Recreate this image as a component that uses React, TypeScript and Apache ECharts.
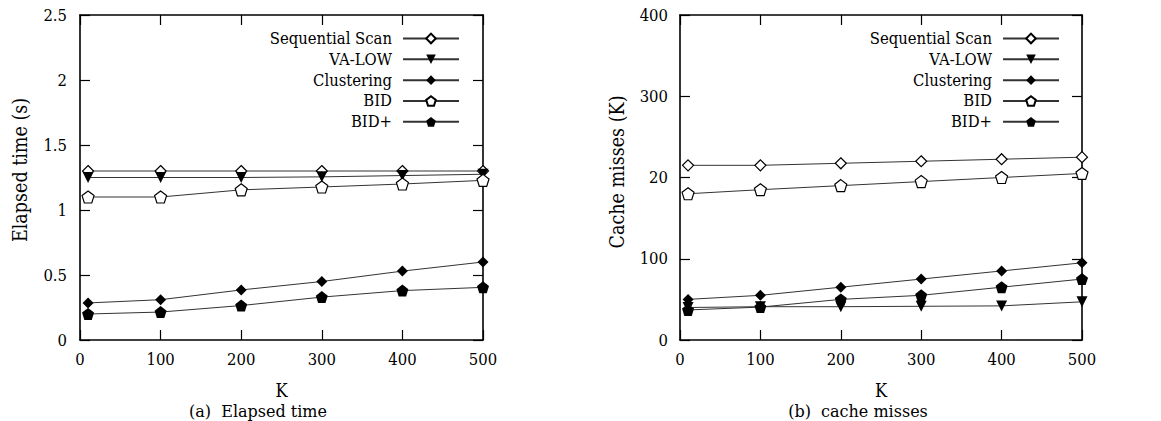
import React, { useEffect, useRef } from "react";
import * as echarts from "echarts";

const kValues = [10, 100, 200, 300, 400, 500];
const seriesNames = ["Sequential Scan", "VA-LOW", "Clustering", "BID", "BID+"];

// (a) Elapsed time (s)
const timeSeqScan = [1.3, 1.3, 1.3, 1.3, 1.3, 1.3];
const timeVaLow = [1.25, 1.25, 1.25, 1.255, 1.265, 1.275];
const timeClustering = [0.285, 0.31, 0.385, 0.45, 0.53, 0.6];
const timeBid = [1.1, 1.1, 1.155, 1.177, 1.2, 1.228];
const timeBidPlus = [0.2, 0.215, 0.265, 0.33, 0.38, 0.405];

// (b) cache misses (K)
const missSeqScan = [215, 215, 217.5, 220, 222.5, 225];
const missVaLow = [40, 41, 41, 41.5, 42, 47];
const missClustering = [50, 55, 65, 75, 85, 95];
const missBid = [180, 185, 190, 195, 200, 205];
const missBidPlus = [37, 40.5, 50, 55, 65, 75];

const xTickLabels = ["0", "100", "200", "300", "400", "500"];
const leftYTickLabels = ["0", "0.5", "1", "1.5", "2", "2.5"];
const rightYTickLabels = ["0", "100", "20", "300", "400"];

const SERIF = "'DejaVu Serif Condensed', 'DejaVu Serif'";
const CAPTION_FONT = "'DejaVu Serif'";

const PENTAGON = "path://M0,-10 L9.51,-3.09 L5.88,8.09 L-5.88,8.09 L-9.51,-3.09 Z";
const TRI_DOWN = "path://M0,0 L10,0 L5,9 Z";

const symbolStyles = [
  { symbol: "diamond", size: 11, open: true },
  { symbol: TRI_DOWN, size: 11, open: false },
  { symbol: "diamond", size: 11, open: false },
  { symbol: PENTAGON, size: 12, open: true },
  { symbol: PENTAGON, size: 12, open: false },
];

function pairs(vals: number[]) {
  return vals.map((v, i) => [kValues[i], v]);
}

function makeSeries(values: number[][], xIdx: number, yIdx: number) {
  return values.map((vals, i) => {
    const s = symbolStyles[i];
    return {
      name: seriesNames[i],
      type: "line",
      xAxisIndex: xIdx,
      yAxisIndex: yIdx,
      data: pairs(vals),
      symbol: s.symbol,
      symbolSize: s.size,
      showSymbol: true,
      lineStyle: { color: "#333", width: 1 },
      itemStyle: s.open
        ? { color: "#fff", borderColor: "#000", borderWidth: 1.2 }
        : { color: "#000", borderColor: "#000", borderWidth: 0 },
      z: 3,
    };
  });
}

function xAxes(gridIndex: number) {
  const base = {
    type: "value",
    gridIndex,
    min: 0,
    max: 500,
    interval: 100,
    splitLine: { show: false },
    axisLine: { show: true, onZero: false, lineStyle: { color: "#000", width: 1.6 } },
    axisTick: { show: true, inside: true, length: 10, lineStyle: { color: "#000", width: 1.2 } },
  };
  return [
    {
      ...base,
      position: "bottom",
      axisLabel: {
        show: true,
        margin: 11,
        fontSize: 16.5,
        fontFamily: SERIF,
        color: "#000",
        formatter: (v: number) => xTickLabels[Math.round(v / 100)] ?? String(v),
      },
    },
    { ...base, position: "top", axisLabel: { show: false } },
  ];
}

function yAxes(gridIndex: number, max: number, interval: number, labels: string[], margin: number) {
  const base = {
    type: "value",
    gridIndex,
    min: 0,
    max,
    interval,
    splitLine: { show: false },
    axisLine: { show: true, onZero: false, lineStyle: { color: "#000", width: 1.6 } },
    axisTick: { show: true, inside: true, length: 10, lineStyle: { color: "#000", width: 1.2 } },
  };
  return [
    {
      ...base,
      position: "left",
      axisLabel: {
        show: true,
        margin,
        fontSize: 16.5,
        fontFamily: SERIF,
        color: "#000",
        formatter: (v: number) => labels[Math.round(v / interval)] ?? String(v),
      },
    },
    { ...base, position: "right", axisLabel: { show: false } },
  ];
}

function legend(right: number) {
  return {
    orient: "vertical",
    right,
    top: 28,
    padding: 0,
    itemWidth: 56,
    itemHeight: 12,
    itemGap: 0,
    align: "right",
    selectedMode: false,
    data: seriesNames,
    textStyle: {
      fontSize: 16.5,
      fontFamily: SERIF,
      color: "#000",
      lineHeight: 20.85,
      padding: [0, 6, 0, 0],
    },
  };
}

function textEl(text: string, x: number, y: number, family: string, size: number, rotation = 0) {
  return {
    type: "text",
    x,
    y,
    rotation,
    style: {
      text,
      fontSize: size,
      fontFamily: family,
      fill: "#000",
      textAlign: "center",
      textVerticalAlign: "middle",
    },
  };
}

export default function App() {
  const ref = useRef<HTMLDivElement>(null);
  useEffect(() => {
    document.body.style.margin = "0";
    if (!ref.current) return;
    const chart = echarts.init(ref.current, null, { renderer: "svg" });
    const option = {
      animation: false,
      backgroundColor: "#fff",
      textStyle: { fontFamily: SERIF },
      grid: [
        { left: 80, top: 15, width: 403, height: 325, containLabel: false },
        { left: 680, top: 15, width: 402, height: 325, containLabel: false },
      ],
      xAxis: [...xAxes(0), ...xAxes(1)],
      yAxis: [
        ...yAxes(0, 2.5, 0.5, leftYTickLabels, 13),
        ...yAxes(1, 400, 100, rightYTickLabels, 12),
      ],
      legend: [legend(701), legend(101)],
      series: [
        ...makeSeries([timeSeqScan, timeVaLow, timeClustering, timeBid, timeBidPlus], 0, 0),
        ...makeSeries([missSeqScan, missVaLow, missClustering, missBid, missBidPlus], 2, 2),
      ],
      graphic: [
        textEl("Elapsed time (s)", 20, 170, SERIF, 19.5, Math.PI / 2),
        textEl("Cache misses (K)", 617, 172, SERIF, 19.5, Math.PI / 2),
        textEl("K", 281.5, 390, SERIF, 18),
        textEl("K", 881, 390, SERIF, 18),
        textEl("(a)  Elapsed time", 258, 411, CAPTION_FONT, 16),
        textEl("(b)  cache misses", 858, 411, CAPTION_FONT, 16),
      ],
    };
    chart.setOption(option as any);
    return () => chart.dispose();
  }, []);
  return <div ref={ref} style={{ width: 1161, height: 421 }} />;
}
